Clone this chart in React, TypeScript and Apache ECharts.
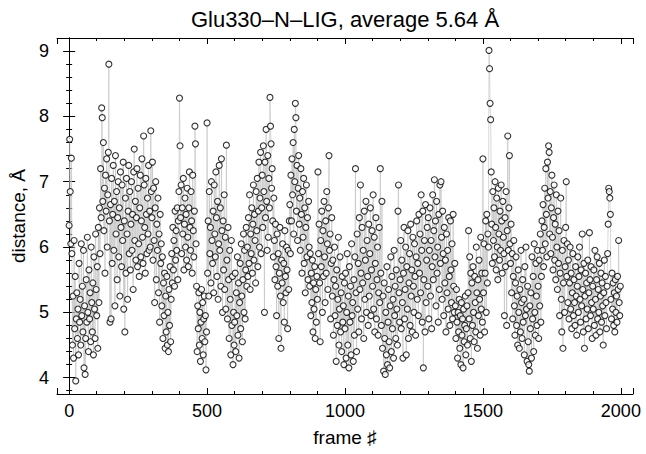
import React, { useEffect, useRef } from "react";
import * as echarts from "echarts";

const TITLE = "Glu330–N–LIG, average 5.64 Å";
const X_NAME = "frame ♯";
const Y_NAME = "distance, Å";
const FRAME_START = 0;
const FRAME_STEP = 2;
const X_MIN = -44;
const X_MAX = 2044;
const Y_MIN = 3.75;
const Y_MAX = 9.2;

// distance values (Å), one per sampled frame (every 2nd frame from 0)
const distance: number[] = [
  6.33, 7.65, 6.85, 6.05, 7.36, 5.9, 4.5, 5.25, 4.3, 6.1, 4.75, 5.55, 3.95, 4.9, 5.3, 4.6, 5.05, 4.35, 5.75, 4.85, 5.2, 4.5, 6.05, 4.95, 5.4, 4.7, 5.95, 4.15, 5.1, 4.05, 4.6, 5.5, 4.85, 6.15, 5.0, 4.4, 5.65, 4.9, 5.3, 4.55, 6.0, 5.15, 4.7, 5.45, 4.35, 5.85, 5.05, 4.6, 6.2, 5.35,
  4.95, 5.7, 4.45, 6.3, 5.15, 6.6, 5.9, 7.2, 6.45, 8.13, 7.98, 6.7, 7.6, 6.25, 6.9, 5.6, 7.1, 6.55, 7.35, 6.0, 6.8, 7.45, 8.8, 6.4, 4.85, 6.65, 4.9, 7.05, 5.75, 6.5, 7.25, 5.95, 6.7, 5.1, 7.4, 6.2, 6.85, 5.5, 6.45, 7.0, 5.85, 6.6, 5.25, 7.15, 6.3, 5.7, 6.95, 6.1, 7.3, 5.05,
  6.4, 4.7, 6.75, 5.6, 7.05, 6.2, 5.2, 6.55, 7.25, 5.9, 6.85, 5.65, 6.35, 7.0, 5.95, 6.5, 5.35, 7.15, 7.5, 6.1, 6.7, 5.8, 6.45, 7.2, 5.7, 6.9, 6.05, 5.55, 6.6, 7.1, 5.85, 6.4, 7.35, 6.15, 5.75, 7.7, 6.95, 6.3, 5.6, 7.05, 6.5, 5.9, 6.75, 6.2, 7.25, 5.95, 6.55, 6.0, 7.78, 6.85,
  6.45, 7.3, 5.8, 6.9, 6.1, 5.15, 6.6, 7.0, 5.5, 6.35, 5.95, 6.75, 5.3, 6.2, 4.85, 6.5, 5.75, 6.05, 5.1, 5.85, 4.6, 5.45, 4.95, 5.6, 4.45, 5.25, 4.7, 5.55, 4.5, 5.0, 4.4, 5.35, 4.8, 5.7, 4.55, 5.2, 5.9, 5.45, 6.3, 5.65, 6.1, 5.4, 6.55, 5.8, 6.25, 5.95, 6.6, 5.5, 6.4, 6.85,
  8.28, 7.55, 6.45, 6.95, 5.9, 6.6, 6.2, 7.05, 5.65, 6.35, 6.75, 6.0, 6.5, 5.8, 6.9, 6.15, 5.7, 6.6, 7.15, 6.3, 5.95, 6.85, 6.4, 5.6, 7.1, 6.25, 5.85, 6.55, 7.85, 7.58, 6.05, 5.4, 4.4, 5.1, 4.75, 5.3, 4.5, 5.0, 4.25, 4.85, 5.35, 4.6, 5.15, 4.35, 4.9, 5.25, 4.55, 4.95, 4.12, 4.7,
  7.9, 5.6, 6.4, 5.25, 6.85, 5.9, 6.3, 5.45, 7.0, 6.1, 5.75, 6.55, 5.3, 6.95, 6.2, 5.85, 7.15, 6.45, 5.55, 6.7, 5.2, 6.05, 7.25, 5.95, 6.6, 5.4, 7.35, 6.25, 5.0, 6.4, 5.65, 6.8, 5.35, 6.15, 5.05, 7.56, 5.8, 4.9, 6.3, 5.5, 4.6, 5.95, 5.2, 4.35, 6.1, 4.8, 5.55, 4.2, 5.0, 4.5,
  4.85, 5.6, 4.4, 5.3, 4.95, 5.85, 4.65, 5.45, 4.3, 5.15, 5.75, 4.75, 6.05, 5.25, 4.55, 5.5, 6.2, 5.0, 5.95, 4.9, 5.65, 6.3, 5.4, 6.0, 5.55, 6.45, 5.75, 6.8, 5.35, 6.2, 5.9, 6.6, 5.6, 6.35, 6.95, 5.8, 6.5, 6.1, 5.45, 6.85, 6.25, 7.05, 5.7, 6.55, 7.3, 6.0, 6.75, 7.45, 5.9, 6.6,
  7.1, 6.3, 7.55, 6.85, 5.0, 7.3, 6.45, 7.8, 6.7, 5.95, 7.4, 6.15, 7.05, 6.6, 8.29, 7.85, 7.58, 6.9, 7.2, 6.4, 5.85, 6.75, 6.1, 5.5, 6.35, 5.7, 4.95, 6.2, 5.4, 5.9, 4.6, 5.6, 6.3, 5.25, 4.45, 5.8, 5.45, 6.05, 5.15, 5.75, 4.85, 6.25, 5.55, 5.3, 6.0, 5.65, 4.75, 5.95, 5.35, 6.4,
  6.65, 5.9, 7.1, 6.4, 7.35, 6.8, 7.6, 6.2, 7.8, 7.0, 8.2, 7.98, 6.55, 7.25, 6.1, 6.9, 7.4, 6.35, 6.75, 5.95, 7.2, 6.5, 5.6, 6.85, 6.15, 7.05, 5.75, 6.6, 5.3, 6.3, 6.95, 5.85, 6.45, 5.5, 6.7, 6.0, 5.4, 5.9, 4.95, 5.6, 5.15, 5.8, 4.7, 5.45, 5.05, 5.7, 4.6, 5.35, 4.85, 5.55,
  5.2, 7.15, 5.9, 6.35, 5.45, 4.55, 6.1, 5.7, 6.55, 5.0, 6.25, 5.55, 6.7, 5.85, 5.15, 6.4, 5.6, 6.85, 6.05, 5.35, 6.6, 7.4, 5.95, 6.2, 4.9, 5.75, 6.45, 5.25, 5.8, 4.65, 5.5, 6.0, 4.95, 5.4, 4.25, 5.65, 4.8, 5.2, 6.15, 4.5, 5.05, 5.85, 4.7, 5.3, 4.4, 5.55, 4.85, 5.1, 4.2, 5.45,
  4.75, 5.6, 4.3, 5.0, 5.9, 4.5, 5.25, 4.15, 5.7, 4.85, 5.4, 4.35, 6.05, 4.95, 5.15, 4.25, 5.5, 4.65, 5.85, 7.2, 5.3, 4.4, 6.2, 5.05, 5.75, 4.7, 6.45, 5.35, 6.95, 5.6, 4.9, 6.3, 5.45, 5.95, 4.6, 6.55, 5.2, 5.8, 6.7, 5.0, 6.1, 5.55, 4.8, 6.35, 5.25, 5.9, 6.6, 4.95, 5.65, 6.25,
  5.4, 6.8, 5.05, 6.15, 4.7, 5.75, 6.45, 4.9, 5.5, 6.0, 4.65, 5.3, 6.3, 5.15, 7.2, 5.6, 4.8, 6.7, 4.45, 5.25, 4.1, 5.45, 4.6, 4.05, 5.0, 4.35, 5.7, 4.2, 4.85, 5.35, 4.55, 4.15, 5.1, 5.85, 4.4, 5.55, 4.75, 5.2, 4.3, 5.95, 4.95, 5.4, 4.6, 5.65, 5.05, 4.5, 6.55, 6.95, 5.3, 4.85,
  5.5, 6.1, 4.75, 5.8, 5.15, 4.3, 5.6, 6.3, 4.9, 5.35, 6.0, 4.35, 5.7, 5.05, 6.25, 4.6, 5.45, 5.9, 4.8, 6.35, 5.25, 5.65, 4.7, 6.15, 5.4, 5.0, 6.05, 5.55, 4.65, 5.85, 6.4, 5.2, 5.75, 4.95, 6.5, 5.6, 6.2, 5.3, 6.8, 5.95, 4.85, 6.55, 4.15, 5.5, 6.1, 4.7, 6.65, 5.15, 5.8, 6.3,
  5.4, 6.45, 4.9, 5.95, 6.6, 5.25, 6.1, 4.75, 5.7, 6.8, 5.5, 6.25, 7.03, 5.85, 6.4, 5.1, 6.7, 5.6, 6.0, 4.85, 6.5, 5.35, 6.95, 5.75, 7.0, 6.15, 5.2, 6.55, 5.9, 4.95, 6.3, 5.45, 5.8, 4.7, 6.2, 5.3, 5.95, 5.05, 6.45, 5.55, 4.8, 6.4, 5.65, 5.15, 6.05, 4.9, 6.5, 5.4, 5.0, 5.75,
  5.1, 4.6, 5.35, 4.85, 4.3, 5.0, 4.7, 5.2, 4.45, 4.95, 4.2, 5.15, 4.65, 4.9, 4.15, 5.05, 4.55, 4.8, 5.25, 4.35, 4.75, 5.1, 4.5, 5.3, 6.25, 4.9, 5.85, 4.6, 5.6, 4.25, 5.45, 4.8, 5.7, 5.0, 4.55, 5.55, 5.15, 4.7, 6.0, 5.3, 4.45, 5.5, 4.95, 5.8, 5.2, 4.65, 6.15, 5.05, 5.6, 4.85,
  7.35, 5.3, 6.05, 4.7, 5.6, 6.4, 5.0, 6.5, 5.45, 6.2, 6.0, 9.01, 8.73, 8.2, 7.95, 7.15, 6.35, 5.75, 6.85, 6.1, 6.6, 5.85, 7.0, 6.3, 5.65, 6.75, 6.0, 5.5, 6.9, 6.2, 5.8, 6.55, 5.95, 6.95, 6.4, 5.6, 6.7, 6.15, 5.9, 4.95, 6.45, 5.7, 6.85, 4.8, 6.25, 7.7, 5.95, 6.6, 7.4, 6.05,
  5.75, 6.35, 5.3, 5.9, 4.9, 5.55, 6.1, 5.1, 4.65, 5.45, 5.85, 4.8, 5.25, 4.5, 5.65, 5.0, 4.45, 5.35, 4.7, 5.95, 5.15, 4.6, 5.5, 4.85, 5.2, 4.35, 5.7, 4.95, 6.0, 5.05, 4.25, 5.4, 4.55, 4.2, 4.1, 5.1, 4.75, 5.3, 4.3, 5.85, 4.9, 5.55, 4.4, 6.05, 5.0, 4.65, 5.75, 5.25, 4.8, 5.95,
  5.4, 4.6, 5.8, 5.1, 6.2, 4.85, 5.55, 6.4, 5.95, 6.65, 5.7, 6.3, 6.9, 6.05, 7.2, 6.5, 5.85, 7.3, 6.75, 7.55, 7.45, 6.2, 6.85, 5.9, 6.6, 7.1, 6.15, 5.65, 6.45, 6.95, 5.8, 6.35, 5.5, 6.8, 6.0, 5.35, 6.55, 5.75, 6.25, 4.95, 5.6, 6.75, 5.2, 4.7, 5.95, 4.45, 5.45, 6.1, 5.0, 5.7,
  6.3, 7.0, 5.55, 6.05, 5.15, 5.8, 4.9, 5.45, 6.0, 5.05, 5.6, 4.75, 5.3, 5.9, 4.95, 5.5, 5.15, 4.8, 5.7, 5.25, 4.65, 5.4, 5.85, 5.0, 5.55, 6.0, 5.2, 4.85, 5.65, 5.1, 6.2, 5.35, 4.7, 5.75, 4.45, 5.25, 5.6, 4.9, 5.45, 5.05, 5.8, 4.75, 5.3, 6.22, 5.5, 4.95, 5.7, 5.15, 4.6, 5.4,
  5.05, 5.65, 4.8, 5.95, 5.2, 4.65, 5.5, 5.85, 4.9, 5.35, 5.0, 5.75, 4.7, 5.25, 5.6, 4.85, 5.45, 5.1, 4.5, 5.3, 5.8, 4.95, 5.55, 5.15, 4.75, 5.4, 5.9, 6.35, 6.9, 6.85, 6.75, 6.5, 5.2, 4.9, 5.6, 5.05, 5.45, 4.8, 5.3, 4.7, 5.5, 5.0, 5.25, 4.85, 5.55, 5.35, 6.1, 5.15, 4.95, 5.4,
];

const FONT = "'Liberation Sans', Arial, sans-serif";

export default function App() {
  const ref = useRef<HTMLDivElement>(null);
  useEffect(() => {
    if (!ref.current) return;
    const chart = echarts.init(ref.current, null, { renderer: "svg" });
    const points = distance.map((v, i) => [FRAME_START + i * FRAME_STEP, v]);
    const tickStyle = { color: "#000", width: 1 };
    const xCommon = {
      type: "value",
      min: X_MIN,
      max: X_MAX,
      splitNumber: 5,
      axisLine: { show: true, lineStyle: { color: "#000", width: 1 } },
      splitLine: { show: false },
      axisTick: { show: true, inside: true, length: 6, lineStyle: tickStyle },
      minorTick: { show: true, splitNumber: 5, length: 3, lineStyle: tickStyle },
    };
    const yCommon = {
      type: "value",
      min: Y_MIN,
      max: Y_MAX,
      splitNumber: 5,
      axisLine: { show: true, lineStyle: { color: "#000", width: 1 } },
      splitLine: { show: false },
      axisTick: { show: true, inside: true, length: 6, lineStyle: tickStyle },
      minorTick: { show: true, splitNumber: 5, length: 3, lineStyle: tickStyle },
    };
    const labelStyle = {
      show: true,
      margin: 8,
      fontFamily: FONT,
      fontSize: 18,
      color: "#000",
      showMinLabel: false,
      showMaxLabel: false,
      formatter: (v: number) => String(v),
    };
    chart.setOption({
      animation: false,
      backgroundColor: "#fff",
      textStyle: { fontFamily: FONT },
      grid: { left: 57, right: 13, top: 38, bottom: 60, containLabel: false },
      graphic: [
        {
          type: "text",
          x: 345,
          y: 19,
          style: {
            text: TITLE,
            fontFamily: FONT,
            fontSize: 22,
            fill: "#000",
            textAlign: "center",
            textVerticalAlign: "middle",
          },
        },
      ],
      xAxis: [
        {
          ...xCommon,
          position: "bottom",
          name: X_NAME,
          nameLocation: "middle",
          nameGap: 34,
          nameTextStyle: { fontFamily: FONT, fontSize: 19, color: "#000" },
          axisLabel: labelStyle,
        },
        { ...xCommon, position: "top", axisLabel: { show: false } },
      ],
      yAxis: [
        {
          ...yCommon,
          position: "left",
          name: Y_NAME,
          nameLocation: "middle",
          nameGap: 26,
          nameTextStyle: { fontFamily: FONT, fontSize: 19, color: "#000" },
          axisLabel: labelStyle,
        },
        { ...yCommon, position: "right", axisLabel: { show: false } },
      ],
      series: [
        {
          type: "line",
          xAxisIndex: 0,
          yAxisIndex: 0,
          data: points,
          showSymbol: false,
          lineStyle: { color: "#bdbdbd", width: 0.6 },
          z: 2,
          silent: true,
        },
        {
          type: "scatter",
          xAxisIndex: 0,
          yAxisIndex: 0,
          data: points,
          symbol: "circle",
          symbolSize: 6,
          itemStyle: { color: "#fff", borderColor: "#000", borderWidth: 1.1 },
          z: 3,
          silent: true,
        },
      ],
    });
    return () => chart.dispose();
  }, []);
  return (
    <div
      ref={ref}
      style={{ position: "fixed", left: 0, top: 0, width: 646, height: 454 }}
    />
  );
}
